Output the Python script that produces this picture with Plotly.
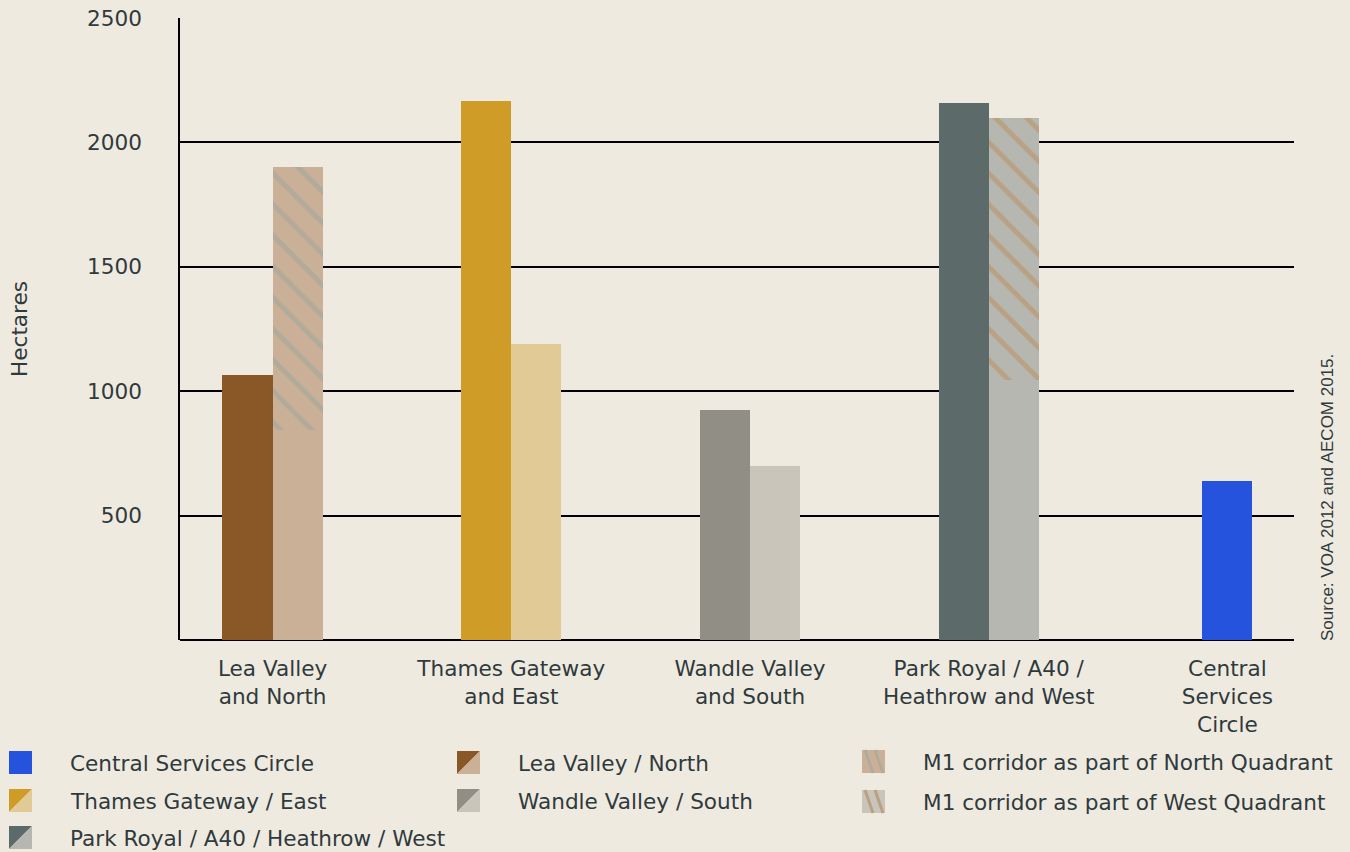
import plotly.graph_objects as go

# ---------------- data ----------------
categories = ["Lea Valley<br>and North", "Thames Gateway<br>and East",
              "Wandle Valley<br>and South", "Park Royal / A40 /<br>Heathrow and West",
              "Central<br>Services<br>Circle"]
quadrant_names = ["Lea Valley / North", "Thames Gateway / East",
                  "Wandle Valley / South", "Park Royal / A40 / Heathrow / West"]
dark_values = [1064, 2166, 923, 2158]      # first bar of each quadrant
light_values = [843, 1189, 698, 1044]      # second bar (solid part)
m1_names = ["M1 corridor as part of North Quadrant", "M1 corridor as part of West Quadrant"]
m1_index = [0, 3]                           # quadrant holding the M1 part
m1_top = [1901, 2098]                       # top of hatched M1 part
central_name = "Central Services Circle"
central_value = [638]
y_ticks = [500, 1000, 1500, 2000, 2500]
source_text = "Source: VOA 2012 and AECOM 2015."

# ---------------- styles ----------------
BG = "#efeae0"
TXT = "#2f3a3c"
FONT = "DejaVu Sans"
FS = 21.6
dark_colors = ["#8a5727", "#cf9c28", "#918e86", "#5c6a69"]
light_colors = ["#c9b096", "#e1ca96", "#c9c5bb", "#b5b7b0"]
m1_fg = ["#b2aa9b", "#b9a283"]
central_color = "#2553de"
W = 0.21

fig = go.Figure()
xs = list(range(len(quadrant_names)))
fig.add_trace(go.Bar(x=xs, y=dark_values, offset=-W, width=W,
                     marker=dict(color=dark_colors, line=dict(width=0)),
                     showlegend=False, hoverinfo="y"))
fig.add_trace(go.Bar(x=xs, y=light_values, offset=0, width=W,
                     marker=dict(color=light_colors, line=dict(width=0)),
                     showlegend=False, hoverinfo="y"))
for k, i in enumerate(m1_index):
    fig.add_trace(go.Bar(x=[i], y=[m1_top[k] - light_values[i]], base=[light_values[i]],
                         offset=0, width=W,
                         marker=dict(color=light_colors[i], line=dict(width=0),
                                     pattern=dict(shape="\\", fgcolor=m1_fg[k],
                                                  bgcolor=light_colors[i],
                                                  size=22, solidity=0.22,
                                                  fillmode="replace")),
                         showlegend=False, hoverinfo="y"))
fig.add_trace(go.Bar(x=[len(quadrant_names)], y=central_value, offset=-W / 2, width=W,
                     marker=dict(color=central_color, line=dict(width=0)),
                     showlegend=False, hoverinfo="y"))

# ---------------- layout ----------------
L, R, T, B = 180, 56, 18, 212
PW, PH = 1350 - L - R, 852 - T - B


def px(x):
    return (x - L) / PW


def py(y):
    return (852 - B - y) / PH


fig.update_layout(
    width=1350, height=852, paper_bgcolor=BG, plot_bgcolor=BG,
    margin=dict(l=L, r=R, t=T, b=B, autoexpand=False), barmode="overlay", bargap=0,
    font=dict(family=FONT, color=TXT, size=FS), showlegend=False,
)
fig.update_xaxes(range=[-0.388, 4.279], tickmode="array",
                 tickvals=list(range(len(categories))), ticktext=categories,
                 showgrid=False, zeroline=False, showline=False, ticks="",
                 ticklabelstandoff=13, automargin=False,
                 tickfont=dict(size=FS, color=TXT, family=FONT), fixedrange=True)
fig.update_yaxes(range=[0, 2500], tickmode="array", tickvals=y_ticks,
                 showgrid=True, gridcolor="#000000", gridwidth=1.5,
                 zeroline=True, zerolinecolor="#000000", zerolinewidth=1.5,
                 showline=True, linecolor="#000000", linewidth=1.5,
                 ticks="", ticklabelstandoff=32, automargin=False,
                 tickfont=dict(size=FS, color=TXT, family=FONT),
                 title=dict(text="Hectares", standoff=53,
                            font=dict(size=FS, color=TXT, family=FONT)))

# source note
fig.add_annotation(text=source_text, xref="paper", yref="paper",
                   x=px(1327), y=py(498), textangle=-90, showarrow=False,
                   xanchor="center", yanchor="middle",
                   font=dict(size=17, color=TXT, family="Liberation Sans"))

# ---------------- custom legend ----------------
shapes = []


def split_icon(x0, y0, dark, light):
    x1, y1 = x0 + 23, y0 + 23
    a, b, c, d = px(x0), px(x1), py(y0), py(y1)
    shapes.append(dict(type="path", xref="paper", yref="paper",
                       path=f"M{a},{c} L{b},{c} L{a},{d} Z", fillcolor=dark,
                       line=dict(width=0)))
    shapes.append(dict(type="path", xref="paper", yref="paper",
                       path=f"M{b},{c} L{b},{d} L{a},{d} Z", fillcolor=light,
                       line=dict(width=0)))


def solid_icon(x0, y0, color):
    shapes.append(dict(type="rect", xref="paper", yref="paper",
                       x0=px(x0), x1=px(x0 + 23), y0=py(y0), y1=py(y0 + 23),
                       fillcolor=color, line=dict(width=0)))


def hatch_icon(x0, y0, bg, fg):
    solid_icon(x0, y0, bg)
    for s in (3, 13):
        shapes.append(dict(type="line", xref="paper", yref="paper",
                           x0=px(x0 + s), y0=py(y0), x1=px(x0 + s + 8), y1=py(y0 + 23),
                           line=dict(color=fg, width=3)))


def label(x, yc, text):
    fig.add_annotation(text=text, xref="paper", yref="paper", x=px(x), y=py(yc),
                       xanchor="left", yanchor="middle", showarrow=False,
                       font=dict(size=FS, color=TXT, family=FONT))


rows = [751, 789, 826]
# column 1
solid_icon(9, rows[0], central_color)
label(68, rows[0] + 12, central_name)
split_icon(9, rows[1], dark_colors[1], light_colors[1])
label(68, rows[1] + 12, quadrant_names[1])
split_icon(9, rows[2], dark_colors[3], light_colors[3])
label(68, rows[2] + 12, quadrant_names[3])
# column 2
split_icon(457, rows[0], dark_colors[0], light_colors[0])
label(516, rows[0] + 12, quadrant_names[0])
split_icon(457, rows[1], dark_colors[2], light_colors[2])
label(516, rows[1] + 12, quadrant_names[2])
# column 3
hatch_icon(862, 750, light_colors[0], m1_fg[0])
label(921, 762, m1_names[0])
hatch_icon(862, 790, light_colors[2], m1_fg[1])
label(921, 802, m1_names[1])

fig.update_layout(shapes=shapes)
fig.write_html("out.html", config={"displayModeBar": False},
               post_script="document.body.style.margin='0';document.body.style.overflow='hidden';")
